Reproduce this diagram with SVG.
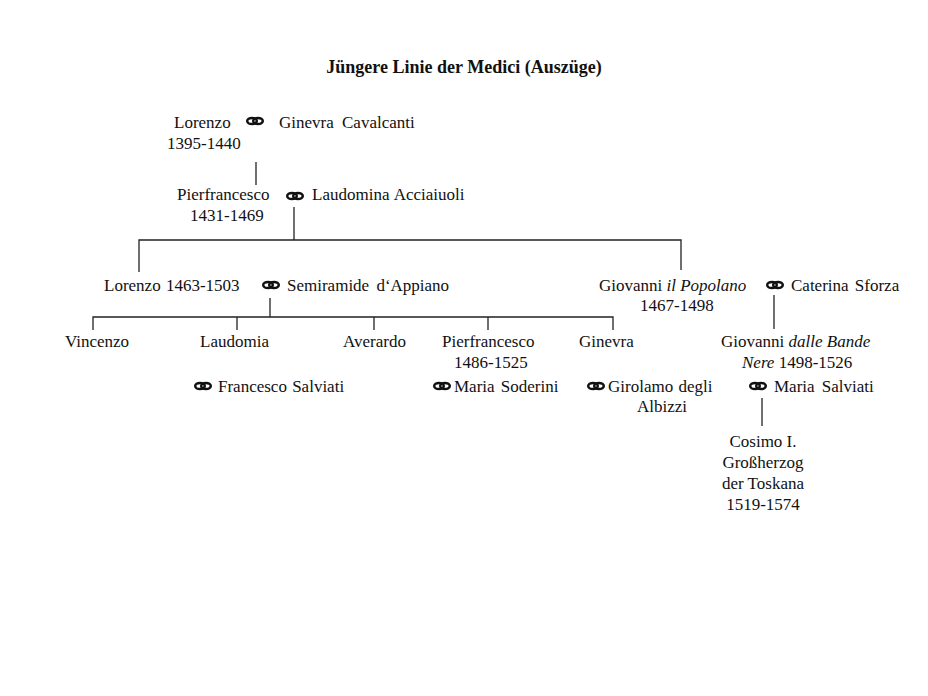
<svg xmlns="http://www.w3.org/2000/svg" xmlns:xlink="http://www.w3.org/1999/xlink" width="928" height="696" viewBox="0 0 928 696">
<style>
text{font-family:"Liberation Serif","Times New Roman",serif;font-size:17px;fill:#111}
.title{font-weight:bold;font-size:18px}
.c{text-anchor:middle}
.i{font-style:italic}
.ln{stroke:#222;stroke-width:1.3;fill:none}
.ring{fill:none;stroke:#111;stroke-width:2.5}
</style>
<defs>
<g id="rings">
<ellipse class="ring" cx="-3" cy="0" rx="4.8" ry="3.1"/>
<ellipse class="ring" cx="3" cy="0" rx="4.8" ry="3.1"/>
</g>
</defs>
<rect width="928" height="696" fill="#fff"/>
<text class="title c" x="464" y="73">Jüngere Linie der Medici (Auszüge)</text>

<g id="connectors">
<path class="ln" d="M256 162V185"/>
<path class="ln" d="M294 207V240"/>
<path class="ln" d="M139 272V240H681V270"/>
<path class="ln" d="M270 298V317"/>
<path class="ln" d="M93 330V317H613V330M237 317V330M374 317V330M488 317V330"/>
<path class="ln" d="M774 295V329"/>
<path class="ln" d="M762 398V426"/>
</g>

<g id="lorenzo1">
<text x="174" y="128">Lorenzo</text>
<text x="167" y="149">1395-1440</text>
<use xlink:href="#rings" x="255" y="121"/>
<text x="279" y="128" word-spacing="4">Ginevra Cavalcanti</text>
</g>

<g id="pierfrancesco1">
<text x="177" y="200">Pierfrancesco</text>
<text x="190" y="221">1431-1469</text>
<use xlink:href="#rings" x="295" y="196"/>
<text x="312" y="200" word-spacing="1">Laudomina Acciaiuoli</text>
</g>

<g id="lorenzo2">
<text x="104" y="291" word-spacing="1">Lorenzo 1463-1503</text>
<use xlink:href="#rings" x="271" y="285"/>
<text x="287" y="291" word-spacing="3">Semiramide d‘Appiano</text>
</g>

<g id="giovanni1">
<text x="599" y="291">Giovanni <tspan class="i">il Popolano</tspan></text>
<text x="640" y="311">1467-1498</text>
<use xlink:href="#rings" x="775" y="285"/>
<text x="791" y="291" word-spacing="2">Caterina Sforza</text>
</g>

<g id="vincenzo"><text x="65" y="347">Vincenzo</text></g>

<g id="laudomia">
<text x="200" y="347">Laudomia</text>
<use xlink:href="#rings" x="203" y="386"/>
<text x="218" y="392" word-spacing="1">Francesco Salviati</text>
</g>

<g id="averardo"><text x="343" y="347">Averardo</text></g>

<g id="pierfrancesco2">
<text x="442" y="347">Pierfrancesco</text>
<text x="454" y="368">1486-1525</text>
<use xlink:href="#rings" x="442" y="386"/>
<text x="454" y="392" word-spacing="2">Maria Soderini</text>
</g>

<g id="ginevra">
<text x="579" y="347">Ginevra</text>
<use xlink:href="#rings" x="596" y="386"/>
<text x="608" y="392" word-spacing="1">Girolamo degli</text>
<text x="637" y="412">Albizzi</text>
</g>

<g id="giovanni2">
<text x="721" y="347">Giovanni <tspan class="i">dalle Bande</tspan></text>
<text x="742" y="368"><tspan class="i">Nere</tspan> 1498-1526</text>
<use xlink:href="#rings" x="758" y="386"/>
<text x="774" y="392" word-spacing="3">Maria Salviati</text>
</g>

<g id="cosimo">
<text class="c" x="763" y="447">Cosimo I.</text>
<text class="c" x="763" y="468">Großherzog</text>
<text class="c" x="763" y="489">der Toskana</text>
<text class="c" x="763" y="510">1519-1574</text>
</g>
</svg>
